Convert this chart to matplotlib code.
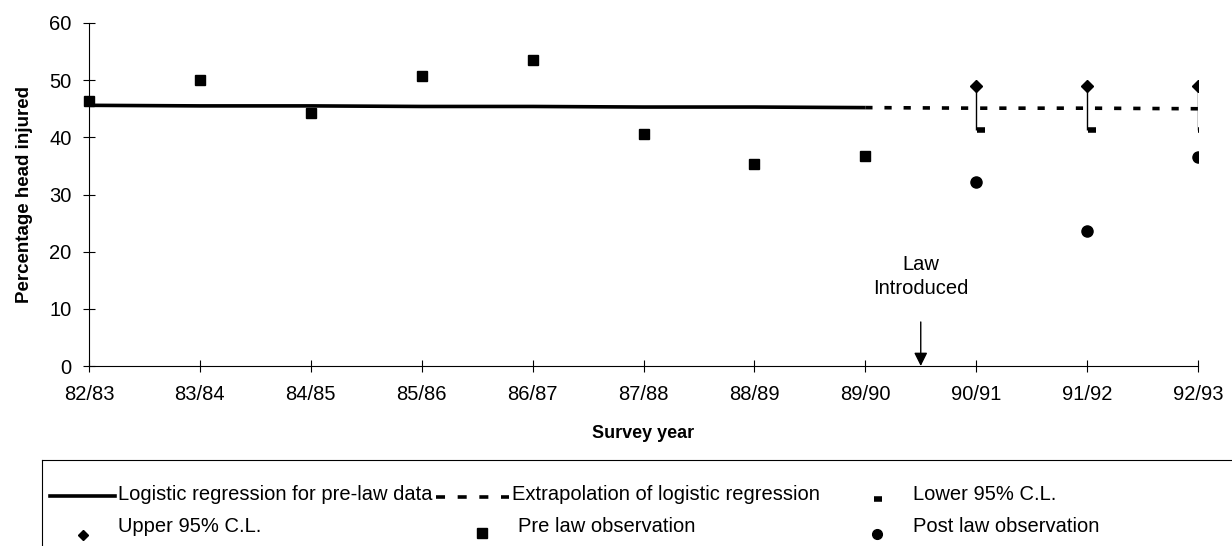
import matplotlib
matplotlib.use("Agg")
import matplotlib.pyplot as plt
from matplotlib.lines import Line2D

plt.rcParams['font.family'] = ['Liberation Sans', 'DejaVu Sans']

# Data
years = ['82/83', '83/84', '84/85', '85/86', '86/87', '87/88',
         '88/89', '89/90', '90/91', '91/92', '92/93']
pre_obs = [46.3, 50.0, 44.3, 50.8, 53.5, 40.5, 35.3, 36.8]
post_obs = [32.1, 23.6, 36.5]
fit_pre = [45.6, 45.5, 45.5, 45.4, 45.4, 45.3, 45.3, 45.2]
fit_extrap = [45.2, 45.1, 45.1, 45.0]
upper_cl = [48.9, 48.9, 48.9]
lower_cl = [41.2, 41.2, 41.2]
law_pos = 7.5

x = list(range(len(years)))
x_pre = x[:len(pre_obs)]
x_post = x[len(pre_obs):]
x_extrap = x[len(pre_obs) - 1:]

W, H = 1232, 546
fig = plt.figure(figsize=(W / 100, H / 100), dpi=100)
ax = fig.add_axes([89 / W, 1 - 366 / H, (1198 - 89) / W, (366 - 23) / H])

dots = (0, (2, 3.3))

# regression lines
ax.plot(x_pre, fit_pre, color='black', lw=2.6, solid_capstyle='butt', zorder=2)
ax.plot(x_extrap, fit_extrap, color='black', lw=2.6, linestyle=dots, zorder=2)

# confidence limits
ax.vlines(x_post, lower_cl, upper_cl, color='black', lw=1, zorder=3)
ax.plot(x_post, upper_cl, 'D', color='black', ms=6.5, zorder=4)
ax.plot([p + 0.04 for p in x_post], lower_cl, '_', color='black', ms=6, mew=4, zorder=4)

# observations
ax.plot(x_pre, pre_obs, 's', color='black', ms=7.5, zorder=5, clip_on=False)
ax.plot(x_post, post_obs, 'o', color='black', ms=8, zorder=5)

# law introduced arrow
ax.annotate('', xy=(law_pos, 0), xytext=(law_pos, 7.7),
            arrowprops=dict(arrowstyle='-|>,head_width=0.4,head_length=0.8',
                            color='black', lw=1, shrinkA=0, shrinkB=0))
ax.text(law_pos, 17.8, 'Law', ha='center', va='center', fontsize=14.5)
ax.text(law_pos, 13.6, 'Introduced', ha='center', va='center', fontsize=14.5)

ax.set_xlim(0, len(years) - 1)
ax.set_ylim(0, 60)
ax.set_xticks(x)
ax.set_xticklabels(years)
ax.set_yticks(range(0, 61, 10))
ax.tick_params(direction='inout', length=9, width=0.8, labelsize=14.5)
ax.tick_params(axis='x', pad=9)
ax.tick_params(axis='y', pad=8)
for s in ['top', 'right']:
    ax.spines[s].set_visible(False)
ax.spines['left'].set_linewidth(0.8)
ax.spines['bottom'].set_linewidth(0.8)

ax.set_xlabel('Survey year', fontsize=13, fontweight='bold', labelpad=15)
ax.set_ylabel('Percentage head injured', fontsize=13.5, fontweight='bold', labelpad=12)

# legend box (only top and left edges visible), drawn in pixel units
top = 460
lg = fig.add_axes([42 / W, 0, 1 - 42 / W, (H - top) / H])
lg.set_xlim(42, W)
lg.set_ylim(H, top)
lg.set_xticks([])
lg.set_yticks([])
for s in ['bottom', 'right']:
    lg.spines[s].set_visible(False)
lg.spines['top'].set_linewidth(0.8)
lg.spines['left'].set_linewidth(0.8)

fs = 14.5
r1, r2 = 494, 527
lg.add_line(Line2D([50, 115], [r1 + 2, r1 + 2], color='black', lw=2.6))
lg.text(118, r1, 'Logistic regression for pre-law data', va='center', fontsize=fs)
lg.add_line(Line2D([436, 509], [r1 + 3, r1 + 3], color='black', lw=2.6,
                   linestyle=(0, (2.5, 3.5))))
lg.text(512, r1, 'Extrapolation of logistic regression', va='center', fontsize=fs)
lg.plot([878], [r1 + 5], '_', color='black', ms=6, mew=4)
lg.text(913, r1, 'Lower 95% C.L.', va='center', fontsize=fs)
lg.plot([83], [r2 + 8], 'D', color='black', ms=5.5)
lg.text(118, r2, 'Upper 95% C.L.', va='center', fontsize=fs)
lg.plot([482], [r2 + 6], 's', color='black', ms=7)
lg.text(518, r2, 'Pre law observation', va='center', fontsize=fs)
lg.plot([877], [r2 + 7], 'o', color='black', ms=7)
lg.text(913, r2, 'Post law observation', va='center', fontsize=fs)

fig.savefig('out.png', dpi=100)
